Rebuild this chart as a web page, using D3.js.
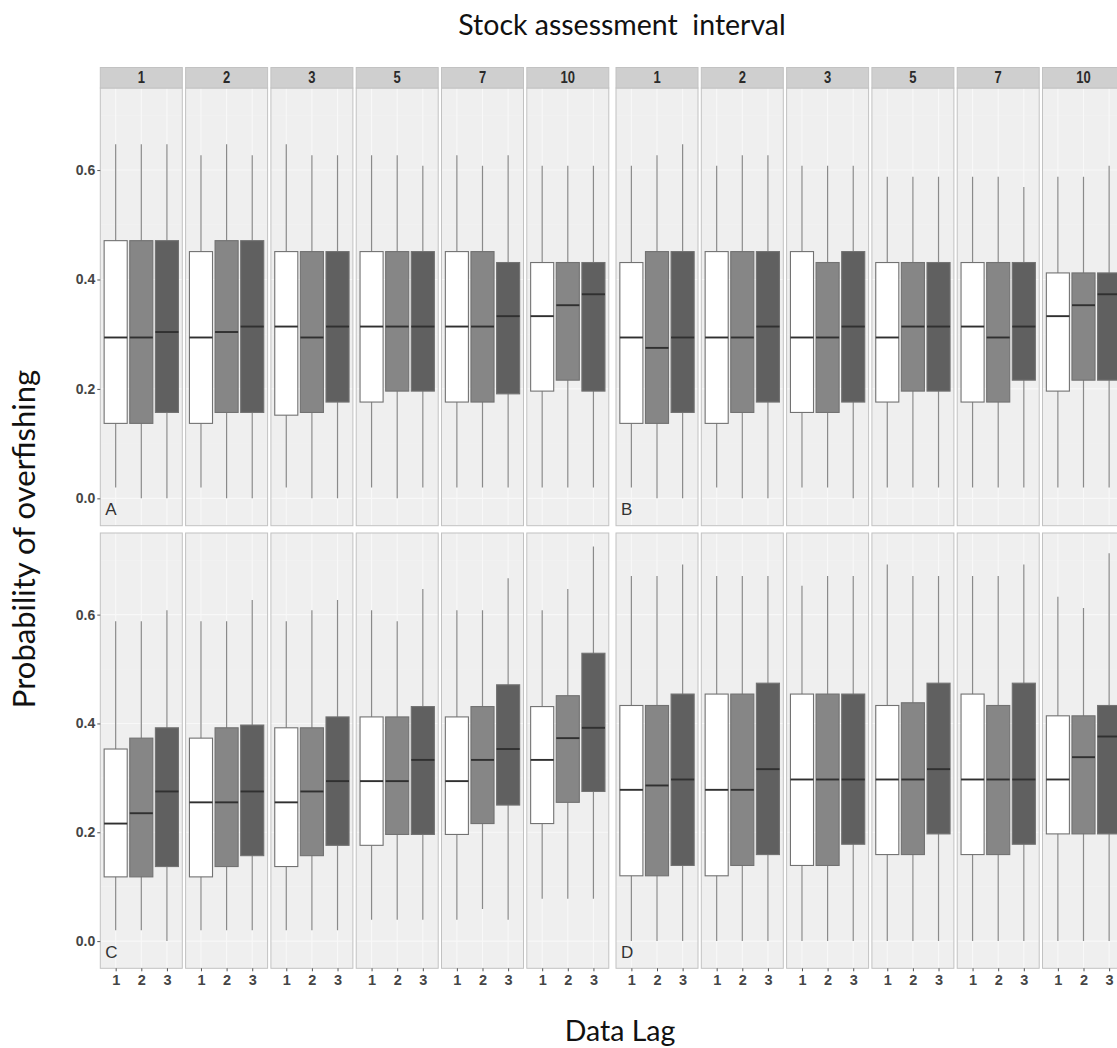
<!DOCTYPE html>
<html>
<head>
<meta charset="utf-8">
<script src="https://cdn.jsdelivr.net/npm/d3@7/dist/d3.min.js"></script>
<style>
  html, body { margin: 0; padding: 0; background: #ffffff; }
  svg { display: block; }
  .tick text { font-family: Arial, "Liberation Sans", sans-serif; }
</style>
</head>
<body>
<svg id="chart" width="1117" height="1048"></svg>
<script>
// Facet levels: stock assessment interval (years) and data lag (years)
const intervals = ["1", "2", "3", "5", "7", "10"];
const lags = ["1", "2", "3"];
const yTicks = [0, 0.2, 0.4, 0.6];
const yMinor = [0.1, 0.3, 0.5, 0.7];
const panelLetters = ["A", "B", "C", "D"];

// Box statistics per interval, per lag: [lower whisker, Q1, median, Q3, upper whisker]
const statsA = [
  [[0.020, 0.137, 0.294, 0.471, 0.647], [0.000, 0.137, 0.294, 0.471, 0.647], [0.000, 0.157, 0.304, 0.471, 0.647]],
  [[0.020, 0.137, 0.294, 0.451, 0.627], [0.000, 0.157, 0.304, 0.471, 0.647], [0.000, 0.157, 0.314, 0.471, 0.627]],
  [[0.020, 0.152, 0.314, 0.451, 0.647], [0.000, 0.157, 0.294, 0.451, 0.627], [0.000, 0.176, 0.314, 0.451, 0.627]],
  [[0.020, 0.176, 0.314, 0.451, 0.627], [0.000, 0.196, 0.314, 0.451, 0.627], [0.020, 0.196, 0.314, 0.451, 0.608]],
  [[0.020, 0.176, 0.314, 0.451, 0.627], [0.020, 0.176, 0.314, 0.451, 0.608], [0.020, 0.191, 0.333, 0.431, 0.627]],
  [[0.020, 0.196, 0.333, 0.431, 0.608], [0.020, 0.216, 0.353, 0.431, 0.608], [0.020, 0.196, 0.373, 0.431, 0.608]]
];
const statsB = [
  [[0.020, 0.137, 0.294, 0.431, 0.608], [0.000, 0.137, 0.275, 0.451, 0.627], [0.000, 0.157, 0.294, 0.451, 0.647]],
  [[0.020, 0.137, 0.294, 0.451, 0.608], [0.000, 0.157, 0.294, 0.451, 0.627], [0.000, 0.176, 0.314, 0.451, 0.627]],
  [[0.020, 0.157, 0.294, 0.451, 0.608], [0.020, 0.157, 0.294, 0.431, 0.608], [0.000, 0.176, 0.314, 0.451, 0.608]],
  [[0.020, 0.176, 0.294, 0.431, 0.588], [0.020, 0.196, 0.314, 0.431, 0.588], [0.020, 0.196, 0.314, 0.431, 0.588]],
  [[0.020, 0.176, 0.314, 0.431, 0.588], [0.020, 0.176, 0.294, 0.431, 0.588], [0.020, 0.216, 0.314, 0.431, 0.569]],
  [[0.020, 0.196, 0.333, 0.412, 0.588], [0.020, 0.216, 0.353, 0.412, 0.588], [0.020, 0.216, 0.373, 0.412, 0.608]]
];
const statsC = [
  [[0.020, 0.118, 0.216, 0.353, 0.588], [0.020, 0.118, 0.235, 0.373, 0.588], [0.000, 0.137, 0.275, 0.392, 0.608]],
  [[0.020, 0.118, 0.255, 0.373, 0.588], [0.020, 0.137, 0.255, 0.392, 0.588], [0.020, 0.157, 0.275, 0.397, 0.627]],
  [[0.020, 0.137, 0.255, 0.392, 0.588], [0.020, 0.157, 0.275, 0.392, 0.608], [0.020, 0.176, 0.294, 0.412, 0.627]],
  [[0.039, 0.176, 0.294, 0.412, 0.608], [0.039, 0.196, 0.294, 0.412, 0.588], [0.039, 0.196, 0.333, 0.431, 0.647]],
  [[0.039, 0.196, 0.294, 0.412, 0.608], [0.059, 0.216, 0.333, 0.431, 0.608], [0.039, 0.250, 0.353, 0.471, 0.667]],
  [[0.078, 0.216, 0.333, 0.431, 0.608], [0.078, 0.255, 0.373, 0.451, 0.647], [0.078, 0.275, 0.392, 0.529, 0.725]]
];
const statsD = [
  [[0.000, 0.120, 0.278, 0.433, 0.671], [0.000, 0.120, 0.286, 0.433, 0.671], [0.000, 0.139, 0.297, 0.454, 0.692]],
  [[0.000, 0.120, 0.278, 0.454, 0.671], [0.000, 0.139, 0.278, 0.454, 0.671], [0.000, 0.159, 0.316, 0.474, 0.671]],
  [[0.000, 0.139, 0.297, 0.454, 0.653], [0.000, 0.139, 0.297, 0.454, 0.671], [0.000, 0.178, 0.297, 0.454, 0.671]],
  [[0.000, 0.159, 0.297, 0.433, 0.692], [0.000, 0.159, 0.297, 0.438, 0.671], [0.000, 0.197, 0.316, 0.474, 0.671]],
  [[0.000, 0.159, 0.297, 0.454, 0.671], [0.000, 0.159, 0.297, 0.433, 0.671], [0.000, 0.178, 0.297, 0.474, 0.692]],
  [[0.000, 0.197, 0.297, 0.414, 0.633], [0.000, 0.197, 0.338, 0.414, 0.612], [0.000, 0.197, 0.376, 0.433, 0.713]]
];

// Layout
const lagFill = d3.scaleOrdinal().domain(lags).range(["#ffffff", "#868686", "#606060"]);
const colLeft = [100.3, 616];
const facetStep = 85.3, facetW = 82;
const rowBox = [{ top: 88, bottom: 525.7, strip: true }, { top: 533, bottom: 968.3, strip: false }];
const stripH = 20.5;
const bg = "#efefef", gridMajor = "#f8f8f8", gridMinor = "#f4f4f4", border = "#c2c2c2";
const axisFont = "Arial, 'Liberation Sans', sans-serif";

const svg = d3.select("#chart");

const panels = [
  { letter: panelLetters[0], stats: statsA, col: 0, row: 0 },
  { letter: panelLetters[1], stats: statsB, col: 1, row: 0 },
  { letter: panelLetters[2], stats: statsC, col: 0, row: 1 },
  { letter: panelLetters[3], stats: statsD, col: 1, row: 1 }
];

panels.forEach(p => {
  const rb = rowBox[p.row];
  const y = d3.scaleLinear().domain([-0.05, 0.75]).range([rb.bottom, rb.top]);
  const pg = svg.append("g").attr("class", "panel-" + p.letter);

  intervals.forEach((iv, i) => {
    const x0 = colLeft[p.col] + i * facetStep;
    const x = d3.scalePoint().domain(lags).range([x0, x0 + facetW]).padding(0.6);
    const boxW = x.step() * 0.9;
    const g = pg.append("g");

    // panel background and grid
    g.append("rect").attr("x", x0).attr("y", rb.top).attr("width", facetW)
      .attr("height", rb.bottom - rb.top).attr("fill", bg);
    g.selectAll(".gmin").data(yMinor).join("line")
      .attr("x1", x0).attr("x2", x0 + facetW)
      .attr("y1", d => y(d)).attr("y2", d => y(d))
      .attr("stroke", gridMinor).attr("stroke-width", 0.6);
    g.selectAll(".gmaj").data(yTicks).join("line")
      .attr("x1", x0).attr("x2", x0 + facetW)
      .attr("y1", d => y(d)).attr("y2", d => y(d))
      .attr("stroke", gridMajor).attr("stroke-width", 1.1);
    g.selectAll(".gv").data(lags).join("line")
      .attr("x1", d => x(d)).attr("x2", d => x(d))
      .attr("y1", rb.top).attr("y2", rb.bottom)
      .attr("stroke", gridMajor).attr("stroke-width", 1.1);

    // boxplots
    const rows = p.stats[i].map((s, k) => ({ lag: lags[k], lo: s[0], q1: s[1], med: s[2], q3: s[3], hi: s[4] }));
    const b = g.selectAll(".box").data(rows).join("g");
    b.append("line")
      .attr("x1", d => x(d.lag)).attr("x2", d => x(d.lag))
      .attr("y1", d => y(d.lo)).attr("y2", d => y(d.hi))
      .attr("stroke", "#8a8a8a").attr("stroke-width", 1.2);
    b.append("rect")
      .attr("x", d => x(d.lag) - boxW / 2).attr("width", boxW)
      .attr("y", d => y(d.q3)).attr("height", d => y(d.q1) - y(d.q3))
      .attr("fill", d => lagFill(d.lag))
      .attr("stroke", "#727272").attr("stroke-width", 1.1);
    b.append("line")
      .attr("x1", d => x(d.lag) - boxW / 2).attr("x2", d => x(d.lag) + boxW / 2)
      .attr("y1", d => y(d.med)).attr("y2", d => y(d.med))
      .attr("stroke", "#303030").attr("stroke-width", 1.9);

    // panel border
    g.append("rect").attr("x", x0).attr("y", rb.top).attr("width", facetW)
      .attr("height", rb.bottom - rb.top).attr("fill", "none")
      .attr("stroke", border).attr("stroke-width", 1);

    // facet strip
    if (rb.strip) {
      g.append("rect").attr("x", x0).attr("y", rb.top - stripH).attr("width", facetW)
        .attr("height", stripH).attr("fill", "#cfcfcf")
        .attr("stroke", border).attr("stroke-width", 1);
      g.append("text")
        .attr("transform", `translate(${x0 + facetW / 2},${rb.top - 5.5}) scale(1,1.2)`)
        .attr("text-anchor", "middle")
        .attr("font-family", axisFont)
        .attr("font-size", 13).attr("font-weight", "bold").attr("fill", "#2a2a2a")
        .text(iv);
    }

    // bottom axis on the lower row
    if (!rb.strip) {
      const ax = g.append("g").attr("transform", `translate(0,${rb.bottom})`)
        .call(d3.axisBottom(x).tickSize(3).tickPadding(3));
      ax.select(".domain").remove();
      ax.selectAll(".tick line").attr("stroke", "#555");
      ax.selectAll(".tick text").attr("font-size", 14.5).attr("font-weight", "bold").attr("fill", "#454545");
    }
  });

  // left axis on the first column
  if (p.col === 0) {
    const ay = pg.append("g").attr("transform", `translate(${colLeft[0]},0)`)
      .call(d3.axisLeft(y).tickValues(yTicks).tickFormat(d3.format(".1f")).tickSize(3).tickPadding(2));
    ay.select(".domain").remove();
    ay.selectAll(".tick line").attr("stroke", "#555");
    ay.selectAll(".tick text").attr("font-size", 14).attr("font-weight", "bold").attr("fill", "#454545");
  }

  // panel letter
  pg.append("text")
    .attr("x", colLeft[p.col] + 5).attr("y", rb.bottom - 10.5)
    .attr("font-family", axisFont)
    .attr("font-size", 17).attr("fill", "#333")
    .text(p.letter);
});

// overall titles
const titleFont = "Lato, 'Open Sans', sans-serif";
svg.append("text").attr("x", 622).attr("y", 35).attr("text-anchor", "middle")
  .attr("font-family", titleFont).attr("font-size", 28.5).attr("fill", "#111")
  .attr("xml:space", "preserve").style("white-space", "pre")
  .text("Stock assessment  interval");
svg.append("text").attr("transform", "translate(35,539) rotate(-90)").attr("text-anchor", "middle")
  .attr("font-family", titleFont).attr("font-size", 31).attr("fill", "#111")
  .text("Probability of overfishing");
svg.append("text").attr("x", 620).attr("y", 1041).attr("text-anchor", "middle")
  .attr("font-family", titleFont).attr("font-size", 28.5).attr("fill", "#111")
  .text("Data Lag");
</script>
</body>
</html>
